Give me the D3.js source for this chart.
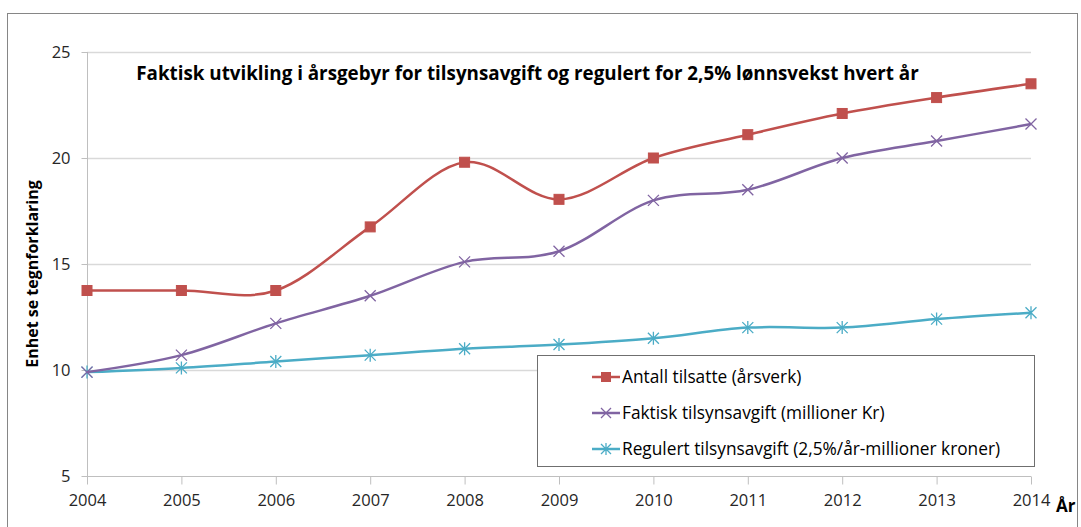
<!DOCTYPE html>
<html><head><meta charset="utf-8">
<script src="https://cdn.jsdelivr.net/npm/d3@7"></script>
<style>body{margin:0;background:#fff}svg{display:block}</style>
</head><body>
<svg id="c" width="1081" height="527"></svg>
<script>
const years = [2004,2005,2006,2007,2008,2009,2010,2011,2012,2013,2014];
const antall = [13.75,13.75,13.75,16.75,19.8,18.05,20.0,21.1,22.1,22.85,23.5];
const faktisk = [9.9,10.7,12.2,13.5,15.1,15.6,18.0,18.5,20.0,20.8,21.6];
const regulert = [9.9,10.1,10.4,10.7,11.0,11.2,11.5,12.0,12.0,12.4,12.7];
const yTicks = [5,10,15,20,25];
const seriesNames = ["Antall tilsatte (årsverk)","Faktisk tilsynsavgift (millioner Kr)","Regulert tilsynsavgift (2,5%/år-millioner kroner)"];
const colors = ["#C0504D","#8064A2","#4BACC6"];
const markers = ["square","x","star"];
const titleText = "Faktisk utvikling i årsgebyr for tilsynsavgift og regulert for 2,5% lønnsvekst hvert år";
const yLabel = "Enhet se tegnforklaring";
const xLabel = "År";

const svg = d3.select("#c");
const font = "'Open Sans', 'Liberation Sans', sans-serif";
svg.append("rect").attr("x",7.5).attr("y",13.5).attr("width",1070).attr("height",530)
  .attr("fill","#fff").attr("stroke","#868686").attr("stroke-width",1);

const x = d3.scalePoint().domain(years).range([87,1031]);
const y = d3.scaleLinear().domain([5,25]).range([476,52]);

// gridlines
svg.append("g").selectAll("line").data(yTicks.filter(d=>d>5)).join("line")
  .attr("x1",87).attr("x2",1031).attr("y1",d=>Math.round(y(d))+0.5).attr("y2",d=>Math.round(y(d))+0.5)
  .attr("stroke","#d9d9d9").attr("stroke-width",1.3);

// y axis
const ya = svg.append("g").attr("transform","translate(87.5,0)")
  .call(d3.axisLeft(y).tickValues(yTicks).tickSize(6).tickPadding(11).tickFormat(d3.format("d")));
ya.select(".domain").attr("stroke","#bfbfbf").attr("d","M0,"+y(25)+"V"+y(5));
ya.selectAll(".tick line").attr("stroke","#bfbfbf");
ya.selectAll("text").attr("font-family",font).attr("font-size",16.5).attr("fill","#262626");

// x axis
const xa = svg.append("g").attr("transform","translate(0,"+(y(5)+0.5)+")")
  .call(d3.axisBottom(x).tickSize(8).tickPadding(10).tickFormat(d3.format("d")));
xa.select(".domain").attr("stroke","#bfbfbf").attr("d","M87,0H1031");
xa.selectAll(".tick line").attr("stroke","#bfbfbf");
xa.selectAll("text").attr("font-family",font).attr("font-size",16.5).attr("fill","#262626");

// axis titles
svg.append("text").attr("x",1056).attr("y",512).attr("font-family",font).attr("font-size",17)
  .attr("font-weight","bold").attr("text-anchor","start").attr("fill","#000").text(xLabel);
svg.append("text").attr("transform","translate(38,274) rotate(-90)").attr("text-anchor","middle")
  .attr("font-family",font).attr("font-size",16).attr("font-weight","bold").attr("fill","#000").text(yLabel);

// title
svg.append("text").attr("x",527.5).attr("y",80).attr("text-anchor","middle").attr("font-family",font)
  .attr("font-size",18.8).attr("font-weight","bold").attr("fill","#000").text(titleText);

const data = [antall,faktisk,regulert];
const line = d3.line().x((d,i)=>x(years[i])).y(d=>y(d)).curve(d3.curveCatmullRom.alpha(0));

function drawMarker(g, type, cx, cy, color, s) {
  if (type==="square") {
    g.append("rect").attr("x",cx-s).attr("y",cy-s).attr("width",2*s).attr("height",2*s)
      .attr("fill",color).attr("stroke",color).attr("stroke-width",1);
  } else if (type==="x") {
    g.append("path").attr("d",`M${cx-s},${cy-s}L${cx+s},${cy+s}M${cx-s},${cy+s}L${cx+s},${cy-s}`)
      .attr("stroke",color).attr("stroke-width",1.3).attr("fill","none");
  } else {
    g.append("path").attr("d",`M${cx-s},${cy-s}L${cx+s},${cy+s}M${cx-s},${cy+s}L${cx+s},${cy-s}M${cx},${cy-s-1}L${cx},${cy+s+1}`)
      .attr("stroke",color).attr("stroke-width",1.3).attr("fill","none");
  }
}

[2,1,0].forEach(k=>{
  const g = svg.append("g");
  g.append("path").datum(data[k]).attr("d",line).attr("fill","none")
    .attr("stroke",colors[k]).attr("stroke-width",2.5);
  data[k].forEach((v,i)=>drawMarker(g, markers[k], x(years[i]), y(v), colors[k], k===0?5:5.5));
});

// legend
const lg = svg.append("g");
lg.append("rect").attr("x",537.5).attr("y",355.5).attr("width",497).attr("height",111)
  .attr("fill","#fff").attr("stroke","#6f6f6f").attr("stroke-width",1);
const rowsY = [377,413,449];
seriesNames.forEach((n,k)=>{
  const yy = rowsY[k];
  lg.append("line").attr("x1",592).attr("x2",620).attr("y1",yy).attr("y2",yy)
    .attr("stroke",colors[k]).attr("stroke-width",2.5);
  drawMarker(lg, markers[k], 606, yy, colors[k], k===0?4.5:5);
  lg.append("text").attr("x",622).attr("y",yy+6).attr("font-family",font).attr("font-size",17.3)
    .attr("fill","#000").text(n);
});
</script>
</body></html>
